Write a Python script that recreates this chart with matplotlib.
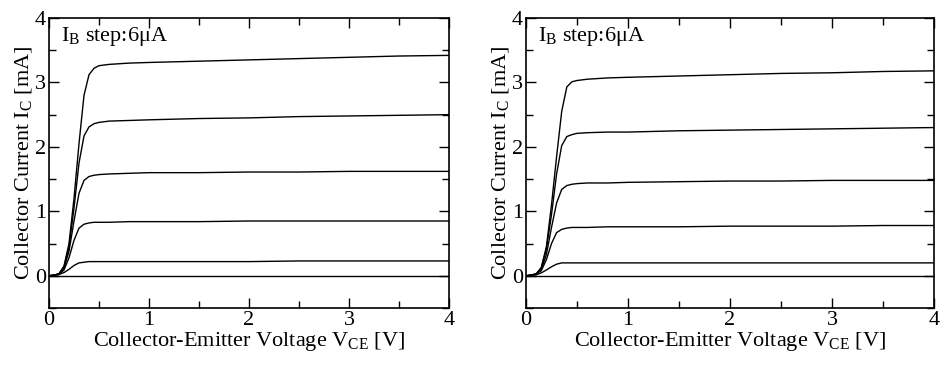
import matplotlib
matplotlib.use('Agg')
import matplotlib.pyplot as plt
from matplotlib.ticker import MultipleLocator

plt.rcParams['font.family'] = ['Liberation Serif', 'DejaVu Serif']
plt.rcParams['mathtext.fontset'] = 'custom'
plt.rcParams['mathtext.rm'] = 'Liberation Serif'
plt.rcParams['mathtext.it'] = 'Liberation Serif:italic'

# Collector-emitter voltage samples [V]
vce = [0, 0.05, 0.1, 0.15, 0.2, 0.25, 0.3, 0.35, 0.4, 0.45, 0.5, 0.6, 0.8,
       1.0, 1.5, 2.0, 2.5, 3.0, 3.5, 4.0]

# Left device: collector current [mA], one list per base-current step
left_ic0 = [0] * 20
left_ic1 = [0, 0.005, 0.02, 0.05, 0.1, 0.16, 0.2, 0.21, 0.22, 0.22, 0.22,
            0.22, 0.22, 0.22, 0.22, 0.22, 0.23, 0.23, 0.23, 0.23]
left_ic2 = [0, 0.01, 0.02, 0.09, 0.28, 0.55, 0.74, 0.8, 0.82, 0.83, 0.83,
            0.83, 0.84, 0.84, 0.84, 0.85, 0.85, 0.85, 0.85, 0.85]
left_ic3 = [0, 0.01, 0.03, 0.12, 0.38, 0.85, 1.28, 1.48, 1.54, 1.56, 1.57,
            1.58, 1.59, 1.60, 1.60, 1.61, 1.61, 1.62, 1.62, 1.62]
left_ic4 = [0, 0.01, 0.03, 0.14, 0.45, 1.05, 1.75, 2.17, 2.31, 2.36, 2.38,
            2.40, 2.41, 2.42, 2.44, 2.45, 2.47, 2.48, 2.49, 2.50]
left_ic5 = [0, 0.01, 0.03, 0.15, 0.5, 1.2, 2.05, 2.8, 3.12, 3.22, 3.26,
            3.28, 3.30, 3.31, 3.33, 3.35, 3.37, 3.39, 3.41, 3.42]

# Right device
right_ic0 = [0] * 20
right_ic1 = [0, 0.005, 0.015, 0.045, 0.09, 0.14, 0.18, 0.2, 0.2, 0.2, 0.2,
             0.2, 0.2, 0.2, 0.2, 0.2, 0.2, 0.2, 0.2, 0.2]
right_ic2 = [0, 0.01, 0.02, 0.08, 0.25, 0.5, 0.67, 0.72, 0.74, 0.75, 0.75,
             0.75, 0.76, 0.76, 0.76, 0.77, 0.77, 0.77, 0.78, 0.78]
right_ic3 = [0, 0.01, 0.03, 0.1, 0.33, 0.75, 1.13, 1.34, 1.4, 1.42, 1.43,
             1.44, 1.44, 1.45, 1.46, 1.47, 1.47, 1.48, 1.48, 1.48]
right_ic4 = [0, 0.01, 0.03, 0.12, 0.42, 0.95, 1.58, 2.02, 2.16, 2.19, 2.21,
             2.22, 2.23, 2.23, 2.25, 2.26, 2.27, 2.28, 2.29, 2.30]
right_ic5 = [0, 0.01, 0.03, 0.13, 0.45, 1.1, 1.85, 2.55, 2.93, 3.01, 3.03,
             3.05, 3.07, 3.08, 3.10, 3.12, 3.14, 3.15, 3.17, 3.18]

panels = [
    [left_ic0, left_ic1, left_ic2, left_ic3, left_ic4, left_ic5],
    [right_ic0, right_ic1, right_ic2, right_ic3, right_ic4, right_ic5],
]

fig = plt.figure(figsize=(9.4, 3.65), dpi=100)
ax_boxes = [
    [49 / 940, 1 - 308 / 365, 400 / 940, 290 / 365],
    [526 / 940, 1 - 308 / 365, 408 / 940, 290 / 365],
]

for box, curves in zip(ax_boxes, panels):
    ax = fig.add_axes(box)
    for ic in curves:
        ax.plot(vce, ic, color='black', lw=1.0)
    ax.set_xlim(0, 4)
    ax.set_ylim(-0.5, 4)
    ax.xaxis.set_major_locator(MultipleLocator(1))
    ax.xaxis.set_minor_locator(MultipleLocator(0.5))
    ax.yaxis.set_major_locator(MultipleLocator(1))
    ax.yaxis.set_minor_locator(MultipleLocator(0.5))
    ax.tick_params(which='both', direction='in', top=True, right=True,
                   labelsize=16, width=1.0, pad=2)
    ax.tick_params(which='major', length=7)
    ax.tick_params(which='minor', length=5)
    for sp in ax.spines.values():
        sp.set_linewidth(1.2)
    ax.set_xlabel('Collector-Emitter Voltage V$_{\\mathrm{CE}}$ [V]',
                  fontsize=16, labelpad=0)
    ax.set_ylabel('Collector Current I$_{\\mathrm{C}}$ [mA]',
                  fontsize=16, labelpad=1)
    ax.text(0.03, 0.975, 'I$_{\\mathrm{B}}$ step:6\u03bcA', transform=ax.transAxes,
            fontsize=16, ha='left', va='top')

fig.savefig('out.png', dpi=100, facecolor='white')
